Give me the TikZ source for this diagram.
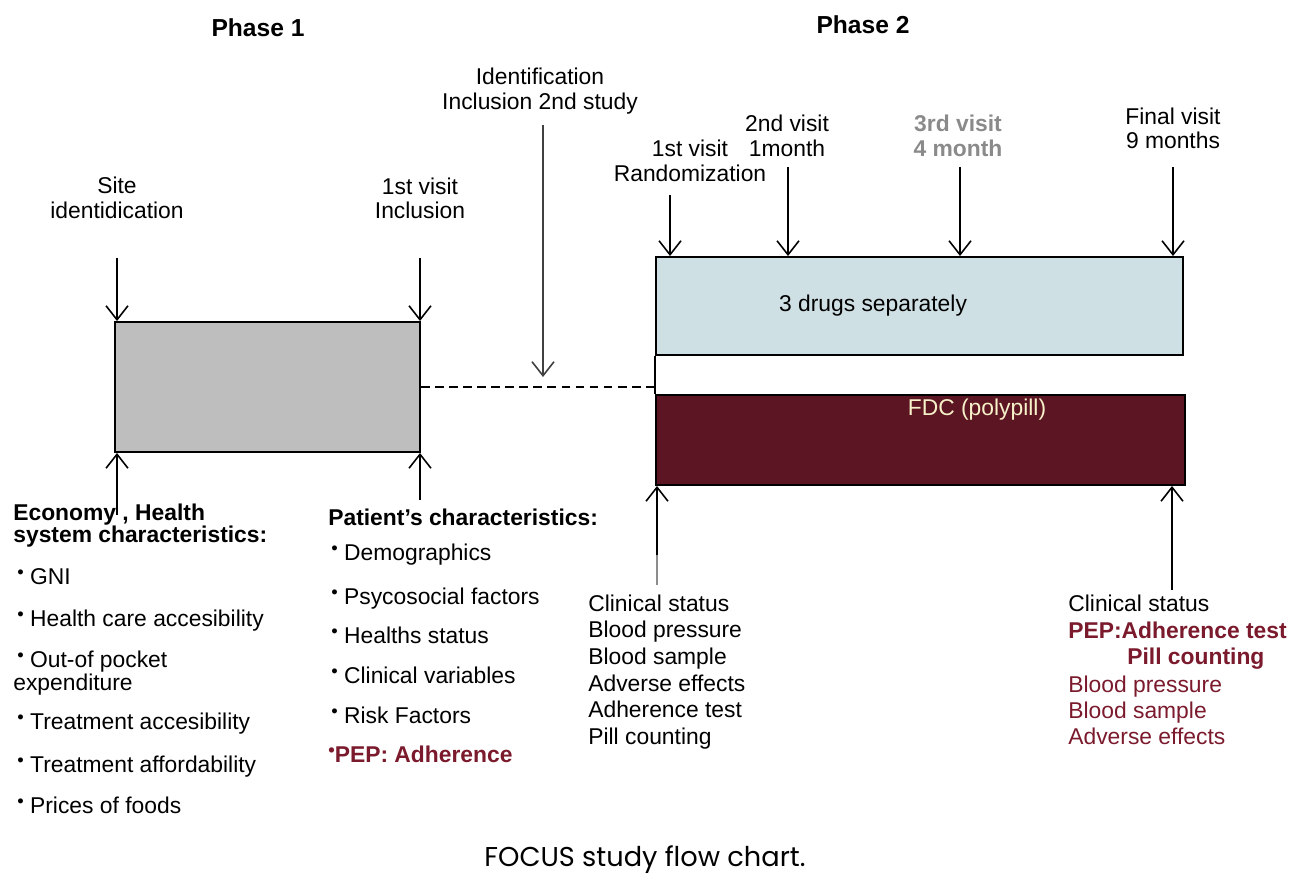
\documentclass[tikz,border=0pt]{standalone}
\usepackage{fontspec}
\setmainfont{Liberation Sans}
\newfontfamily\capfont{Poppins}
\usetikzlibrary{arrows.meta}
\definecolor{boxgray}{HTML}{BEBEBE}
\definecolor{boxblue}{HTML}{CFE0E4}
\definecolor{fdcred}{HTML}{5C1522}
\definecolor{pepred}{HTML}{7A1A2C}
\definecolor{lightyel}{HTML}{F6F1C8}
\definecolor{midgray}{HTML}{8A8A8A}
\newcommand{\bulglyph}{\raisebox{0.45ex}{\fontsize{10.5}{10}\selectfont\textbullet}}
\newcommand{\bul}{\bulglyph\ }
\tikzset{
  txt/.style={inner sep=0pt, font=\fontsize{13}{15}\selectfont},
  lt/.style={txt, anchor=base west},
  ct/.style={txt, anchor=base},
  bt/.style={txt, anchor=base west, font=\fontsize{13}{15}\selectfont\bfseries},
  arr/.style={-{Straight Barb[length=2.8mm,width=4.4mm,line width=0.9pt]}, line width=0.9pt},
  boxline/.style={draw=black, line width=1.1pt},
}
\begin{document}
\begin{tikzpicture}[x=0.02cm,y=-0.02cm]
\useasboundingbox (0,0) rectangle (1290,888);
% headers
\node[ct, font=\fontsize{14}{16}\selectfont\bfseries] (ph1) at (258,37) {Phase 1};
\node[ct, font=\fontsize{14}{16}\selectfont\bfseries] (ph2) at (863,34) {Phase 2};
% boxes
\node[boxline, fill=boxgray, minimum width=305*0.02cm, minimum height=130*0.02cm, inner sep=0pt] (b1) at (267.5,387) {};
\node[boxline, fill=boxblue, minimum width=527*0.02cm, minimum height=98*0.02cm, inner sep=0pt] (b2) at (919.5,306) {};
\node[boxline, fill=fdcred, minimum width=529*0.02cm, minimum height=90*0.02cm, inner sep=0pt] (b3) at (920.5,440) {};
\node[ct] (t2) at (873,312) {3 drugs separately};
\node[ct, text=lightyel] (t3) at (977,415) {FDC (polypill)};
\draw[line width=1.1pt] (b2.south west) -- (b3.north west);
% dashed connector
\coordinate (dm) at (543,377);
\draw[line width=1pt, dash pattern=on 5pt off 3pt] (b1.east) -- (b3.west |- b1.east);
% top labels phase 1
\node[ct] (s1) at (117,194) {Site};
\node[ct] (s2) at (117,219) {identidication};
\node[ct] (i1) at (420,195) {1st visit};
\node[ct] (i2) at (420,219) {Inclusion};
\node[ct] (id1) at (540,85) {Identification};
\node[ct] (id2) at (540,110) {Inclusion 2nd study};
% top labels phase 2
\node[ct] (r1) at (690,157) {1st visit};
\node[ct] (r2) at (690,182) {Randomization};
\node[ct] (v21) at (787,132) {2nd visit};
\node[ct] (v22) at (787,157) {1month};
\node[ct, text=midgray, font=\fontsize{13}{15}\selectfont\bfseries] (v31) at (958,132) {3rd visit};
\node[ct, text=midgray, font=\fontsize{13}{15}\selectfont\bfseries] (v32) at (958,157) {4 month};
\node[ct] (f1) at (1173,125) {Final visit};
\node[ct] (f2) at (1173,149) {9 months};
% down arrows
\coordinate (a1) at (117,258);
\coordinate (a2) at (420,258);
\coordinate (a3) at (543,125);
\coordinate (a4) at (670,195);
\coordinate (a5) at (788,167);
\coordinate (a6) at (960,167);
\coordinate (a7) at (1173,167);
\draw[arr] (a1) -- (a1 |- b1.north);
\draw[arr] (a2) -- (a2 |- b1.north);
\draw[arr, draw=black!75] (a3) -- (dm);
\draw[arr] (a4) -- (a4 |- b2.north);
\draw[arr] (a5) -- (a5 |- b2.north);
\draw[arr] (a6) -- (a6 |- b2.north);
\draw[arr] (a7) -- (a7 |- b2.north);
% up arrows
\coordinate (u1) at (117,515);
\coordinate (u2) at (420,500);
\coordinate (u3) at (657,585);
\coordinate (u3m) at (657,555);
\coordinate (u4) at (1172,590);
\draw[arr] (u1) -- (u1 |- b1.south);
\draw[arr] (u2) -- (u2 |- b1.south);
\draw[line width=0.9pt, draw=black!45] (u3) -- (u3m);
\draw[arr] (u3m) -- (u3m |- b3.south);
\draw[arr] (u4) -- (u4 |- b3.south);
% bottom left column
\node[bt] (e1) at (13,520) {Economy , Health};
\node[bt] (e2) at (13,542) {system characteristics:};
\node[lt] (e3) at (17,584) {\bul GNI};
\node[lt] (e4) at (17,626) {\bul Health care accesibility};
\node[lt] (e5) at (17,667) {\bul Out-of pocket};
\node[lt] (e6) at (13,690) {expenditure};
\node[lt] (e7) at (17,729) {\bul Treatment accesibility};
\node[lt] (e8) at (17,772) {\bul Treatment affordability};
\node[lt] (e9) at (17,813) {\bul Prices of foods};
% middle column
\node[bt] (p0) at (328,525) {Patient's characteristics:};
\node[lt] (p1) at (331,560) {\bul Demographics};
\node[lt] (p2) at (331,604) {\bul Psycosocial factors};
\node[lt] (p3) at (331,643) {\bul Healths status};
\node[lt] (p4) at (331,683) {\bul Clinical variables};
\node[lt] (p5) at (331,723) {\bul Risk Factors};
\node[bt, text=pepred] (p6) at (328,762) {\bulglyph PEP: Adherence};
% clinical block
\node[lt] (c1) at (588,611) {Clinical status};
\node[lt] (c2) at (588,637) {Blood pressure};
\node[lt] (c3) at (588,664) {Blood sample};
\node[lt] (c4) at (588,691) {Adverse effects};
\node[lt] (c5) at (588,717) {Adherence test};
\node[lt] (c6) at (588,744) {Pill counting};
% right block
\node[lt] (d1) at (1068,611) {Clinical status};
\node[bt, text=pepred] (d2) at (1068,638) {PEP:Adherence test};
\node[bt, text=pepred] (d3) at (1127,664) {Pill counting};
\node[lt, text=pepred] (d4) at (1068,692) {Blood pressure};
\node[lt, text=pepred] (d5) at (1068,718) {Blood sample};
\node[lt, text=pepred] (d6) at (1068,744) {Adverse effects};
% caption
\node[ct, font=\capfont\fontsize{15.5}{17}\selectfont] (cap) at (645,866) {FOCUS study flow chart.};
\end{tikzpicture}
\end{document}
